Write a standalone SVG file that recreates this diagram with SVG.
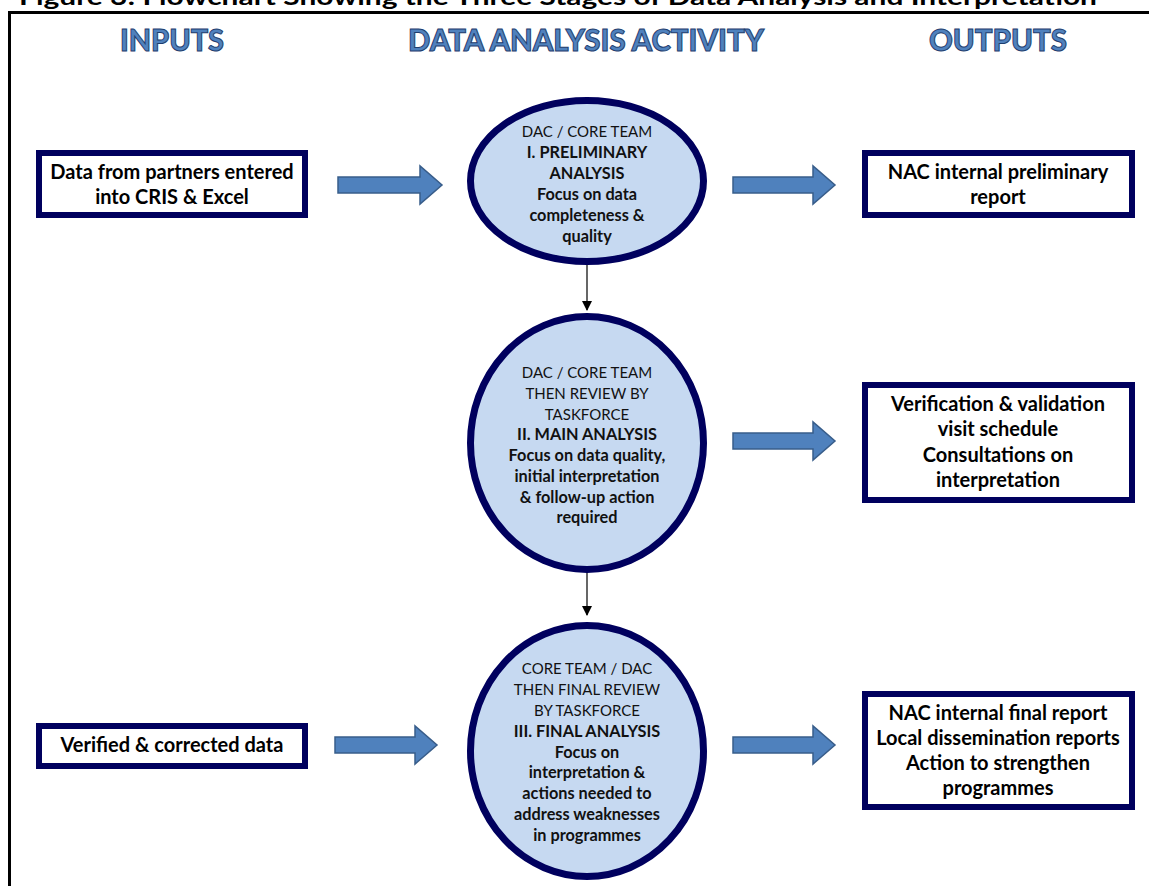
<svg xmlns="http://www.w3.org/2000/svg" width="1149" height="886" viewBox="0 0 1149 886">
<defs>
<style>
.box{fill:#fff;stroke:#00005e;stroke-width:6}
.ell{fill:#c6d9f1;stroke:#00005e;stroke-width:7}
.bt{font-family:Lato,"Liberation Sans",sans-serif;font-weight:bold;font-size:20px;fill:#000;text-anchor:middle}
.et{font-family:Lato,"Liberation Sans",sans-serif;font-size:15px;fill:#111;text-anchor:middle}
.eb{font-weight:bold;font-size:16.3px}
.hd{font-family:Lato,"Liberation Sans",sans-serif;font-weight:900;font-size:30px;fill:#4f81bd;stroke:#1f3d6e;stroke-width:1;text-anchor:middle}
.blk{fill:#4f81bd;stroke:#385d8a;stroke-width:1.5}
.con{stroke:#000;stroke-width:1.2;fill:none}
</style>
<marker id="ah" markerWidth="10" markerHeight="10" refX="9" refY="5" orient="auto" markerUnits="userSpaceOnUse">
<path d="M0,0 L10,5 L0,10 Z" fill="#000"/>
</marker>
</defs>
<rect width="1149" height="886" fill="#fff"/>
<text x="558" y="5" font-family="Lato,'Liberation Sans',sans-serif" font-weight="bold" font-size="22" text-anchor="middle" textLength="1078" lengthAdjust="spacingAndGlyphs">Figure 3: Flowchart Showing the Three Stages of Data Analysis and Interpretation</text>
<path d="M9.5,886 V12.5 H1149" fill="none" stroke="#000" stroke-width="3"/>
<g id="headers">
<text class="hd" x="172" y="51" textLength="104" lengthAdjust="spacingAndGlyphs">INPUTS</text>
<text class="hd" x="586" y="51" textLength="356" lengthAdjust="spacingAndGlyphs">DATA ANALYSIS ACTIVITY</text>
<text class="hd" x="998" y="51" textLength="138" lengthAdjust="spacingAndGlyphs">OUTPUTS</text>
</g>
<g id="connectors">
<path class="blk" d="M338,177 H420 V166 L442,185 L420,204 V193 H338 Z"/>
<path class="blk" d="M733,177 H813 V166 L835,185 L813,204 V193 H733 Z"/>
<path class="blk" d="M733,433 H813 V422 L835,441 L813,460 V449 H733 Z"/>
<path class="blk" d="M335,737 H415 V726 L437,745 L415,764 V753 H335 Z"/>
<path class="blk" d="M733,737 H813 V726 L835,745 L813,764 V753 H733 Z"/>
<line class="con" x1="587" y1="265" x2="587" y2="310" marker-end="url(#ah)"/>
<line class="con" x1="587" y1="573" x2="587" y2="615" marker-end="url(#ah)"/>
</g>
<g id="in1">
<rect class="box" x="39" y="153" width="266" height="62"/>
<text class="bt" x="172" y="179">Data from partners entered</text>
<text class="bt" x="172" y="204">into CRIS &amp; Excel</text>
</g>
<g id="in2">
<rect class="box" x="39" y="726" width="266" height="40"/>
<text class="bt" x="172" y="752">Verified &amp; corrected data</text>
</g>
<g id="stage1">
<ellipse class="ell" cx="587" cy="181" rx="116.5" ry="80.5"/>
<text class="et" x="587" y="137">DAC / CORE TEAM</text>
<text class="et eb" x="587" y="158">I. PRELIMINARY</text>
<text class="et eb" x="587" y="179">ANALYSIS</text>
<text class="et eb" x="587" y="200">Focus on data</text>
<text class="et eb" x="587" y="221">completeness &amp;</text>
<text class="et eb" x="587" y="242">quality</text>
</g>
<g id="stage2">
<ellipse class="ell" cx="587" cy="443" rx="116.5" ry="126.5"/>
<text class="et" x="587" y="378">DAC / CORE TEAM</text>
<text class="et" x="587" y="399">THEN REVIEW BY</text>
<text class="et" x="587" y="420">TASKFORCE</text>
<text class="et eb" x="587" y="440">II. MAIN ANALYSIS</text>
<text class="et eb" x="587" y="461">Focus on data quality,</text>
<text class="et eb" x="587" y="482">initial interpretation</text>
<text class="et eb" x="587" y="503">&amp; follow-up action</text>
<text class="et eb" x="587" y="523">required</text>
</g>
<g id="stage3">
<ellipse class="ell" cx="587" cy="751" rx="116.5" ry="125.5"/>
<text class="et" x="587" y="674">CORE TEAM / DAC</text>
<text class="et" x="587" y="695">THEN FINAL REVIEW</text>
<text class="et" x="587" y="716">BY TASKFORCE</text>
<text class="et eb" x="587" y="737">III. FINAL ANALYSIS</text>
<text class="et eb" x="587" y="758">Focus on</text>
<text class="et eb" x="587" y="778">interpretation &amp;</text>
<text class="et eb" x="587" y="799">actions needed to</text>
<text class="et eb" x="587" y="820">address weaknesses</text>
<text class="et eb" x="587" y="841">in programmes</text>
</g>
<g id="out1">
<rect class="box" x="865" y="153" width="267" height="62"/>
<text class="bt" x="998" y="179">NAC internal preliminary</text>
<text class="bt" x="998" y="204">report</text>
</g>
<g id="out2">
<rect class="box" x="865" y="385" width="267" height="115"/>
<text class="bt" x="998" y="411">Verification &amp; validation</text>
<text class="bt" x="998" y="436">visit schedule</text>
<text class="bt" x="998" y="462">Consultations on</text>
<text class="bt" x="998" y="487">interpretation</text>
</g>
<g id="out3">
<rect class="box" x="865" y="694" width="267" height="113"/>
<text class="bt" x="998" y="720">NAC internal final report</text>
<text class="bt" x="998" y="745">Local dissemination reports</text>
<text class="bt" x="998" y="770">Action to strengthen</text>
<text class="bt" x="998" y="795">programmes</text>
</g>
</svg>
